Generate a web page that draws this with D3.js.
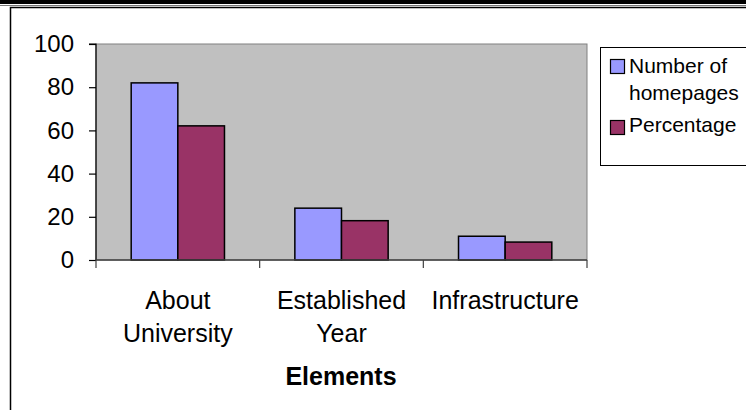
<!DOCTYPE html>
<html>
<head>
<meta charset="utf-8">
<script src="https://cdn.jsdelivr.net/npm/d3@7/dist/d3.min.js"></script>
<style>
  html, body { margin: 0; padding: 0; background: #fff; }
  svg { display: block; font-family: Arial, "Liberation Sans", sans-serif; }
</style>
</head>
<body>
<svg id="chart" width="746" height="410"></svg>
<script>
// Homepage elements: counts and share of homepages
const categories = [["About", "University"], ["Established", "Year"], ["Infrastructure"]];
const seriesNames = [["Number of", "homepages"], ["Percentage"]];
const homepages = [82, 24, 11];
const percentage = [62.1, 18.2, 8.3];
const yTicks = [0, 20, 40, 60, 80, 100];
const colors = ["#9999ff", "#993366"];

const svg = d3.select("#chart");

// page decoration: heavy rule at top and the chart frame
svg.append("rect").attr("x", 0).attr("y", 0).attr("width", 746).attr("height", 4).attr("fill", "#000");
svg.append("line").attr("x1", 0).attr("x2", 746).attr("y1", 5.5).attr("y2", 5.5).attr("stroke", "#777").attr("stroke-width", 1);
svg.append("rect").attr("x", 10.5).attr("y", 7.5).attr("width", 760).attr("height", 420)
  .attr("fill", "none").attr("stroke", "#000").attr("stroke-width", 1.5);

const plot = { left: 96, right: 587, top: 44, bottom: 260 };

const x = d3.scaleBand().domain(d3.range(categories.length)).range([plot.left, plot.right]);
const y = d3.scaleLinear().domain([0, 100]).range([plot.bottom, plot.top]);

// plot area
svg.append("rect")
  .attr("x", plot.left).attr("y", plot.top)
  .attr("width", plot.right - plot.left).attr("height", plot.bottom - plot.top)
  .attr("fill", "#c0c0c0").attr("stroke", "#808080").attr("stroke-width", 1);

// bars
const barW = x.bandwidth() * 0.285;
const series = [homepages, percentage];
series.forEach((vals, si) => {
  svg.append("g").selectAll("rect").data(vals).join("rect")
    .attr("x", (d, i) => x(i) + x.bandwidth() / 2 - barW + si * barW)
    .attr("y", d => y(d))
    .attr("width", barW)
    .attr("height", d => y(0) - y(d))
    .attr("fill", colors[si])
    .attr("stroke", "#000").attr("stroke-width", 1.5);
});

// y axis
const yAxis = svg.append("g").attr("transform", `translate(${plot.left},0)`)
  .call(d3.axisLeft(y).tickValues(yTicks).tickSize(7).tickPadding(15));
yAxis.select(".domain").attr("stroke", "#000").attr("stroke-width", 1.2).attr("d", `M-7,${plot.top}H0V${plot.bottom}`);
yAxis.selectAll(".tick line").attr("stroke", "#000").attr("stroke-width", 1.2);
yAxis.selectAll(".tick text").attr("font-size", 24).attr("fill", "#000")
  .attr("font-family", "Arial, 'Liberation Sans', sans-serif");

// x axis baseline with ticks at category boundaries
const xAxis = svg.append("g");
xAxis.append("line").attr("x1", plot.left).attr("x2", plot.right)
  .attr("y1", plot.bottom).attr("y2", plot.bottom).attr("stroke", "#404040").attr("stroke-width", 1.5);
const bounds = d3.range(categories.length + 1).map(i => i < categories.length ? x(i) : plot.right);
xAxis.selectAll("line.tk").data(bounds).join("line").attr("class", "tk")
  .attr("x1", d => d).attr("x2", d => d)
  .attr("y1", plot.bottom).attr("y2", plot.bottom + 8)
  .attr("stroke", "#404040").attr("stroke-width", 1.2);

// category labels
const catG = svg.append("g").attr("font-size", 25).attr("fill", "#000").attr("text-anchor", "middle");
categories.forEach((lines, i) => {
  const t = catG.append("text").attr("x", x(i) + x.bandwidth() / 2).attr("y", 309);
  lines.forEach((ln, j) => t.append("tspan").attr("x", x(i) + x.bandwidth() / 2).attr("dy", j === 0 ? 0 : 33).text(ln));
});

// axis title
svg.append("text").attr("x", 341).attr("y", 385).attr("text-anchor", "middle")
  .attr("font-size", 25).attr("font-weight", "bold").text("Elements");

// legend
const lg = svg.append("g");
lg.append("rect").attr("x", 600.5).attr("y", 47.5).attr("width", 160).attr("height", 118)
  .attr("fill", "#fff").attr("stroke", "#000").attr("stroke-width", 1);
const legendRows = [{ y: 73, sw: 59 }, { y: 132, sw: 120 }];
seriesNames.forEach((lines, i) => {
  lg.append("rect").attr("x", 610.5).attr("y", legendRows[i].sw + 0.5).attr("width", 14).attr("height", 14)
    .attr("fill", colors[i]).attr("stroke", "#000").attr("stroke-width", 1.2);
  const t = lg.append("text").attr("x", 629).attr("y", legendRows[i].y).attr("font-size", 21);
  lines.forEach((ln, j) => t.append("tspan").attr("x", 629).attr("dy", j === 0 ? 0 : 27).text(ln));
});
</script>
</body>
</html>
